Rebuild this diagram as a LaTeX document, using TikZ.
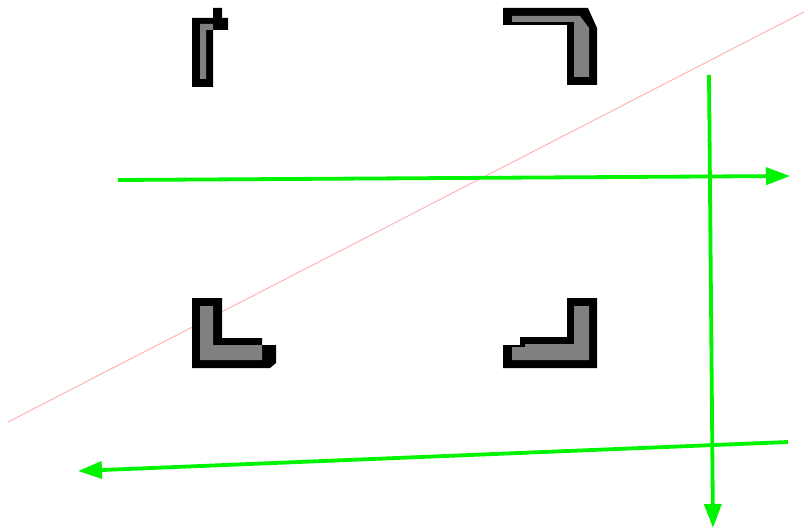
\documentclass[tikz,border=0pt]{standalone}
\usetikzlibrary{arrows.meta}
\definecolor{grn}{HTML}{00F400}
\definecolor{pinkline}{HTML}{FFB4B4}
\definecolor{brgray}{HTML}{808080}
\tikzset{
  outer/.style={fill=black, draw=none},
  inner/.style={fill=brgray, draw=none},
  garrow/.style={draw=grn, line width=3.8pt, -{Triangle[length=24pt,width=17pt]}},
}
\begin{document}
\begin{tikzpicture}[x=1pt,y=-1pt]
\fill[white] (0,0) rectangle (808,532);
\useasboundingbox (0,0) rectangle (808,532);
% red thin line
\coordinate (r1) at (8,422);
\coordinate (r2) at (804,12);
\draw[pinkline, line width=1pt] (r1) -- (r2);
% top-left bracket
\fill[outer] (192,18) -- (213,18) -- (213,8) -- (222,8) -- (222,18) -- (228,18) -- (228,30) -- (213,30) -- (213,87) -- (192,87) -- cycle;
\fill[inner] (200,24) -- (213,24) -- (213,30) -- (206,30) -- (206,79) -- (200,79) -- cycle;
% top-right bracket
\fill[outer] (503,8) -- (588,8) -- (597,28) -- (597,85) -- (567,85) -- (567,25) -- (503,25) -- cycle;
\fill[inner] (512,16) -- (580,16) -- (589,28) -- (589,77) -- (574,77) -- (574,22) -- (512,22) -- cycle;
% bottom-left bracket
\fill[outer] (192,298) -- (222,298) -- (222,338) -- (262,338) -- (262,345) -- (276,345) -- (276,363) -- (270,368) -- (192,368) -- cycle;
\fill[inner] (200,306) -- (213,306) -- (213,345) -- (262,345) -- (262,360) -- (200,360) -- cycle;
% bottom-right bracket
\fill[outer] (567,298) -- (597,298) -- (597,368) -- (503,368) -- (503,345) -- (520,345) -- (520,337) -- (567,337) -- cycle;
\fill[inner] (574,306) -- (589,306) -- (589,360) -- (512,360) -- (512,347) -- (525,347) -- (525,344) -- (574,344) -- cycle;
% green arrows
\coordinate (h1s) at (118,180);
\coordinate (h1e) at (790,176);
\coordinate (vs) at (709,75);
\coordinate (ve) at (713,528);
\coordinate (h2s) at (788,442);
\coordinate (h2e) at (78,471);
\draw[garrow] (h1s) -- (h1e);
\draw[garrow] (vs) -- (ve);
\draw[garrow] (h2s) -- (h2e);
\end{tikzpicture}
\end{document}
